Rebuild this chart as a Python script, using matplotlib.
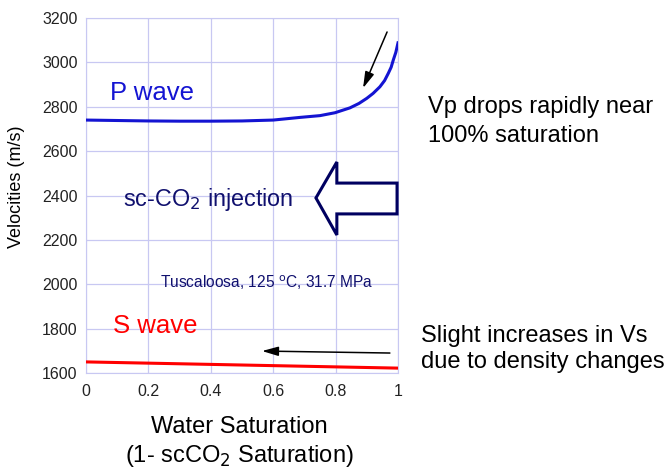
import numpy as np
import matplotlib.pyplot as plt
from matplotlib import font_manager
from matplotlib.patches import Polygon

plt.rcParams['font.family'] = ['Liberation Sans', 'DejaVu Sans']

# water saturation and velocities (m/s)
sw_p = [0, 0.1, 0.2, 0.3, 0.4, 0.5, 0.6, 0.686, 0.75, 0.798, 0.846, 0.875, 0.9, 0.92,
        0.942, 0.957, 0.969, 0.978, 0.985, 0.993, 1.0]
vp = [2740, 2738, 2736, 2735, 2735, 2736, 2740, 2752, 2760, 2773, 2795, 2815, 2838, 2860,
      2890, 2918, 2951, 2978, 3011, 3045, 3088]
sw_s = [0, 0.25, 0.5, 0.75, 1.0]
vs = [1650, 1643, 1636, 1629, 1622]

xticks = [0, 0.2, 0.4, 0.6, 0.8, 1]
xticklabels = ['0', '0.2', '0.4', '0.6', '0.8', '1']
yticks = list(range(1600, 3201, 200))

grid_col = '#c8c8f2'
navy = '#10106e'
W, H = 669, 470

# narrow face for the tick numbers if present
names = {f.name for f in font_manager.fontManager.ttflist}
if 'Liberation Sans Narrow' in names:
    tick_font, tick_size = 'Liberation Sans Narrow', 13
else:
    tick_font, tick_size = 'Liberation Sans', 11.5

fig = plt.figure(figsize=(6.69, 4.70), dpi=100)
ax = fig.add_axes([86 / W, 1 - 373 / H, 312 / W, 355 / H])

ax.plot(sw_p, vp, color='#1414d2', lw=2.2, zorder=3)
ax.plot(sw_s, vs, color='#ff0000', lw=2.2, zorder=3)

ax.set_xlim(0, 1)
ax.set_ylim(1600, 3200)
ax.set_xticks(xticks)
ax.set_xticklabels(xticklabels)
ax.set_yticks(yticks)
ax.grid(True, color=grid_col, lw=0.9)
for s in ax.spines.values():
    s.set_color(grid_col)
ax.tick_params(length=0, labelsize=tick_size, colors='#222222')
ax.tick_params(axis='y', pad=6)
ax.tick_params(axis='x', pad=8)
for lab in ax.get_xticklabels() + ax.get_yticklabels():
    lab.set_family([tick_font, 'DejaVu Sans'])

# axis titles
fig.text(17 / W, 1 - 187 / H, 'Velocities (m/s)', fontsize=13, rotation=90,
         ha='center', va='center')
fig.text(239 / W, 1 - 433 / H, 'Water Saturation', fontsize=17,
         ha='center', va='baseline')
fig.text(239 / W, 1 - 462 / H, '(1- scCO$_2$ Saturation)', fontsize=17,
         ha='center', va='baseline')

ax.text(0.077, 2830, 'P wave', color='#1414d2', fontsize=18.5, va='baseline')
ax.text(0.087, 1780, 'S wave', color='#ff0000', fontsize=18.5, va='baseline')
ax.text(0.12, 2353, 'sc-CO$_2$ injection', color=navy, fontsize=16.8, va='baseline')
ax.text(0.237, 1983, 'Tuscaloosa, 125 $^{\\mathrm{o}}$C, 31.7 MPa', color=navy,
        fontsize=11.2, va='baseline')

# arrows pointing at the curves
ax.annotate('', xy=(0.888, 2884), xytext=(0.965, 3137),
            arrowprops=dict(arrowstyle='-|>,head_length=0.7,head_width=0.2',
                            color='black', lw=1.1, mutation_scale=14,
                            shrinkA=0, shrinkB=0))
ax.annotate('', xy=(0.564, 1699), xytext=(0.974, 1690),
            arrowprops=dict(arrowstyle='-|>,head_length=0.7,head_width=0.2',
                            color='black', lw=1.1, mutation_scale=14,
                            shrinkA=0, shrinkB=0))

# hollow block arrow for the injection direction
arrow_pts = [(0.737, 2389), (0.804, 2551), (0.804, 2456), (0.997, 2456),
             (0.997, 2317), (0.804, 2317), (0.804, 2222)]
ax.add_patch(Polygon(arrow_pts, closed=True, facecolor='white',
                     edgecolor='#000060', lw=2.2, zorder=4, clip_on=False))

# side notes
fig.text(428 / W, 1 - 113 / H, 'Vp drops rapidly near', fontsize=17, va='baseline')
fig.text(428 / W, 1 - 142 / H, '100% saturation', fontsize=17, va='baseline')
fig.text(421 / W, 1 - 342 / H, 'Slight increases in Vs', fontsize=17, va='baseline')
fig.text(421 / W, 1 - 368 / H, 'due to density changes', fontsize=17, va='baseline')

fig.savefig('out.png', dpi=100, facecolor='white')
